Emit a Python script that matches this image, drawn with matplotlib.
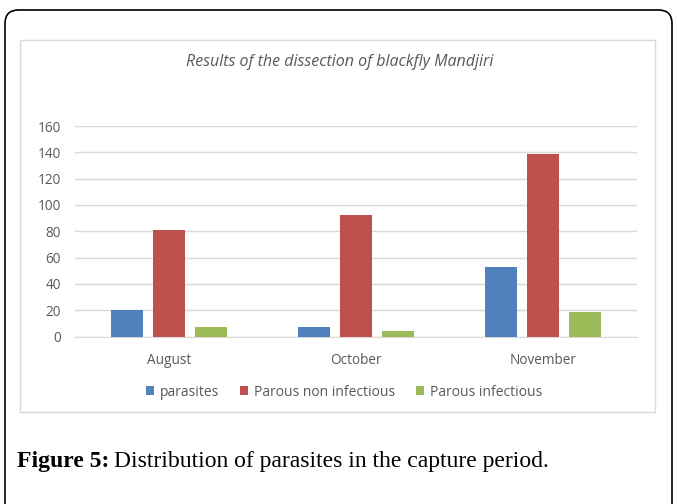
import numpy as np
import matplotlib
matplotlib.use("Agg")
import matplotlib.pyplot as plt
from matplotlib.patches import FancyBboxPatch, Rectangle, Patch

# monthly dissection counts
months = ["August", "October", "November"]
parasites = [20, 7, 53]
parous_non_inf = [81, 92, 139]
parous_inf = [7, 4, 19]
series_names = ["parasites", "Parous non infectious", "Parous infectious"]
colors = ["#4F81BD", "#C0504D", "#9BBB59"]
yticks = [0, 20, 40, 60, 80, 100, 120, 140, 160]

W, H = 677, 504
fig = plt.figure(figsize=(W / 100, H / 100), dpi=100)

# outer frame with rounded corners, open past the bottom edge
frame = FancyBboxPatch((5 / W, -0.05), 667 / W, 1.05 - 10 / H,
                       boxstyle="round,pad=0,rounding_size=0.02",
                       transform=fig.transFigure, fill=False,
                       edgecolor="black", lw=1.2, mutation_aspect=W / H)
fig.patches.append(frame)

# chart area box
box = Rectangle((20 / W, 1 - 412 / H), 635 / W, 372 / H,
                transform=fig.transFigure, fill=False,
                edgecolor="#D9D9D9", lw=1.0)
fig.patches.append(box)

ax = fig.add_axes([75 / W, 1 - 336.5 / H, 562 / W, 210.5 / H])
x = np.arange(len(months))
bw = 0.17
step = 0.224
for i, (vals, c) in enumerate(zip([parasites, parous_non_inf, parous_inf], colors)):
    ax.bar(x + (i - 1) * step, vals, width=bw, color=c, zorder=3)

ax.set_xlim(-0.5, 2.5)
ax.set_ylim(0, 160)
ax.set_yticks(yticks)
ax.set_xticks(x)
ax.set_xticklabels(months)
ax.yaxis.grid(True, color="#D9D9D9", lw=1.0, zorder=0)
for s in ["top", "right", "left"]:
    ax.spines[s].set_visible(False)
ax.spines["bottom"].set_color("#D9D9D9")
ax.tick_params(length=0, labelsize=9.8, labelcolor="#595959", pad=10)
ax.tick_params(axis="x", pad=12)
for t in ax.get_xticklabels() + ax.get_yticklabels():
    t.set_fontfamily("Open Sans")

fig.text(340 / W, 1 - 62 / H, "Results of the dissection of blackfly Mandjiri",
         ha="center", va="center", fontsize=11.5, style="italic",
         color="#595959", family="Open Sans")

handles = [Patch(facecolor=c, edgecolor="none") for c in colors]
fig.legend(handles, series_names, loc="center", ncol=3,
           bbox_to_anchor=(344 / W, 1 - 392 / H), frameon=False,
           handlelength=0.6, handleheight=0.6, handletextpad=0.4,
           columnspacing=1.5, prop={"family": "Open Sans", "size": 10},
           labelcolor="#595959")

# caption below the chart
cap1 = fig.text(17 / W, 1 - 462 / H, "Figure 5:", ha="left", va="center",
                fontsize=17, weight="bold", family="Liberation Serif")
fig.canvas.draw()
bb = cap1.get_window_extent()
fig.text((bb.x1 + 5) / W, 1 - 462 / H,
         "Distribution of parasites in the capture period.",
         ha="left", va="center", fontsize=17, family="Liberation Serif")

fig.savefig("out.png", dpi=100)
